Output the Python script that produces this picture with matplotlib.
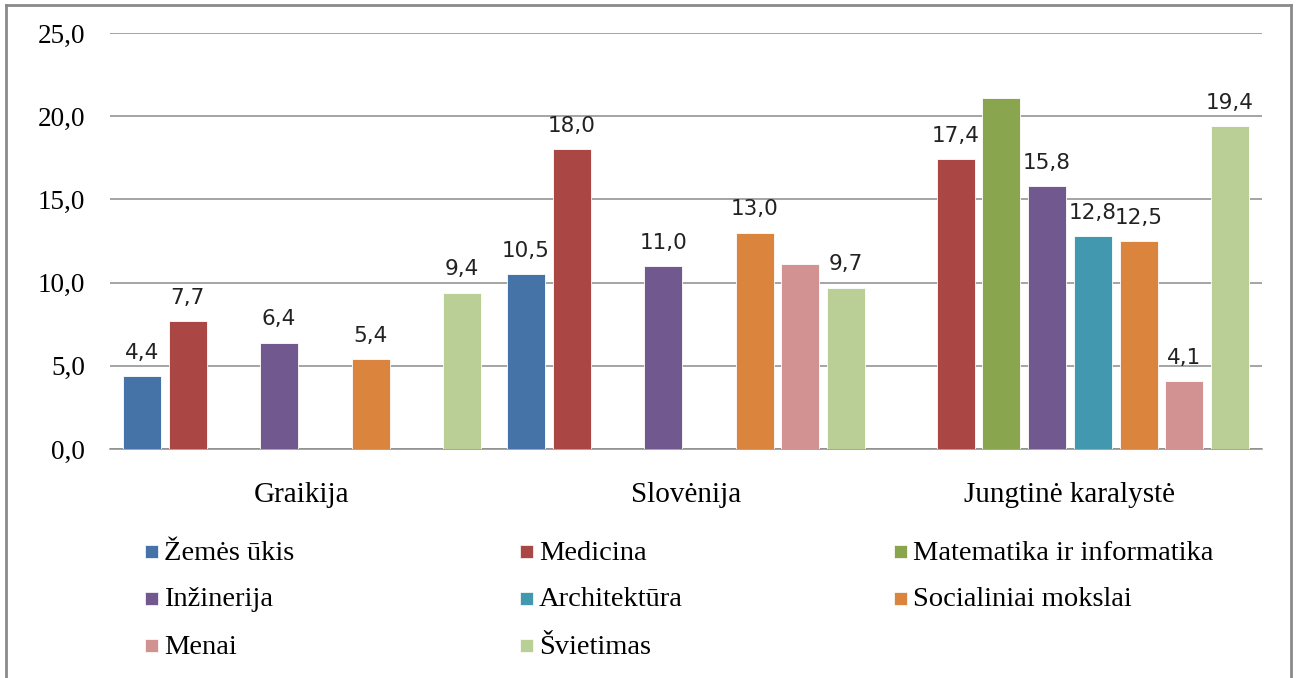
import matplotlib.pyplot as plt
from matplotlib.patches import Rectangle
from matplotlib.lines import Line2D
import numpy as np

countries = ["Graikija", "Slovėnija", "Jungtinė karalystė"]
fields = ["Žemės ūkis", "Medicina", "Matematika ir informatika",
          "Inžinerija", "Architektūra", "Socialiniai mokslai",
          "Menai", "Švietimas"]
colors = ["#4572A7", "#AA4643", "#89A54E", "#71588F",
          "#4198AF", "#DB843D", "#D39292", "#B9CF96"]

# values per field, one per country (None = no bar)
zemes_ukis = [4.4, 10.5, None]
medicina = [7.7, 18.0, 17.4]
matematika = [None, None, 21.1]
inzinerija = [6.4, 11.0, 15.8]
architektura = [None, None, 12.8]
socialiniai = [5.4, 13.0, 12.5]
menai = [None, 11.1, 4.1]
svietimas = [9.4, 9.7, 19.4]
values = [zemes_ukis, medicina, matematika, inzinerija,
          architektura, socialiniai, menai, svietimas]

# bars drawn without a value label in the original
no_label = [(6, 1), (2, 2)]

yticks = [0, 5, 10, 15, 20, 25]

W, H = 1297, 678
fig = plt.figure(figsize=(W / 100, H / 100), dpi=100)
ax = fig.add_axes([110 / W, 1 - 449 / H, 1152 / W, 416 / H])

serif = "Liberation Serif"
sans = "DejaVu Sans"

slot = 0.119
bw = 0.099
x = np.arange(len(countries))
for i, (vals, c) in enumerate(zip(values, colors)):
    for j, v in enumerate(vals):
        if v is None:
            continue
        xpos = x[j] + (i - 3.5) * slot
        ax.bar(xpos, v, width=bw, color=c, edgecolor="white", linewidth=0.6, zorder=3)
        if (i, j) in no_label:
            continue
        ax.annotate(f"{v:.1f}".replace(".", ","), (xpos, v), xytext=(0, 9.5),
                    textcoords="offset points", ha="center", va="bottom",
                    fontsize=15.5, family=sans, color="#222222", zorder=4)

ax.set_xlim(-0.5, 2.5)
ax.set_ylim(0, 25)
ax.set_yticks(yticks)
ax.set_yticklabels([f"{t:.1f}".replace(".", ",") for t in yticks],
                   family=serif, fontsize=19.5)
ax.set_xticks(x)
ax.set_xticklabels(countries, family=serif, fontsize=21)
ax.tick_params(axis="both", length=0)
ax.tick_params(axis="y", pad=18)
ax.tick_params(axis="x", pad=24)
ax.grid(axis="y", color="#8c8c8c", linewidth=1.1, zorder=0)
for s in ["top", "right", "left"]:
    ax.spines[s].set_visible(False)
ax.spines["bottom"].set_color("#8c8c8c")
ax.spines["bottom"].set_linewidth(1.1)

# legend, filled row by row in three columns
col_x = [145, 520, 894]
row_y = [552, 599, 646]
for i, (name, c) in enumerate(zip(fields, colors)):
    r, k = divmod(i, 3)
    px, py = col_x[k], row_y[r]
    fig.patches.append(Rectangle((px / W, 1 - (py + 6) / H), 13 / W, 13 / H,
                                 transform=fig.transFigure, facecolor=c,
                                 edgecolor="white", linewidth=0.5))
    fig.text((px + 19) / W, 1 - (py + 1) / H, name, family=serif, fontsize=20.5,
             va="center", ha="left")

# outer frame
frame_col = "#8a8a8a"
fig.add_artist(Line2D([6 / W, 6 / W], [0, 1 - 5 / H], color=frame_col, lw=2,
                      transform=fig.transFigure))
fig.add_artist(Line2D([6 / W, 1291 / W], [1 - 5 / H, 1 - 5 / H], color=frame_col, lw=2,
                      transform=fig.transFigure))
fig.add_artist(Line2D([1291 / W, 1291 / W], [0, 1 - 5 / H], color=frame_col, lw=2,
                      transform=fig.transFigure))

fig.savefig("out.png", dpi=100)
